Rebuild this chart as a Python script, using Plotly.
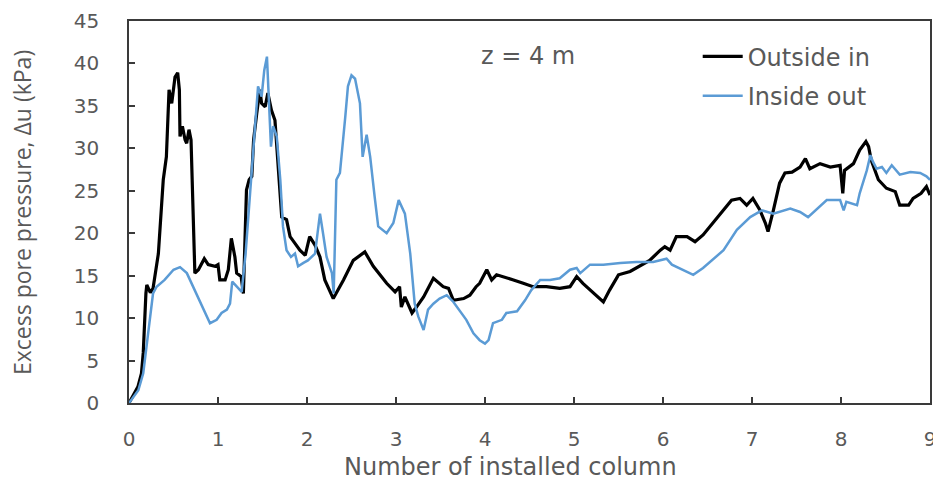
import plotly.graph_objects as go

# Outside in (black)
x_outside = [0.0, 0.1, 0.14, 0.16, 0.19, 0.2, 0.24, 0.27, 0.33, 0.385, 0.42, 0.45, 0.48, 0.5, 0.517, 0.547,
             0.566, 0.573, 0.6, 0.63, 0.648, 0.674, 0.697, 0.74, 0.78, 0.846, 0.89, 0.966, 1.0, 1.02, 1.08,
             1.116, 1.15, 1.19, 1.21, 1.26, 1.285, 1.32, 1.35, 1.38, 1.4, 1.435, 1.47, 1.49, 1.53, 1.56, 1.585,
             1.6, 1.64, 1.68, 1.716, 1.77, 1.81, 1.865, 1.92, 1.98, 2.03, 2.09, 2.146, 2.2, 2.295, 2.41, 2.52,
             2.65, 2.745, 2.895, 2.99, 3.04, 3.06, 3.1, 3.18, 3.23, 3.31, 3.42, 3.53, 3.59, 3.645, 3.76, 3.83,
             3.9, 3.94, 4.02, 4.075, 4.13, 4.2, 4.32, 4.43, 4.54, 4.69, 4.84, 4.955, 5.03, 5.1, 5.22, 5.33,
             5.4, 5.5, 5.63, 5.74, 5.85, 5.97, 6.02, 6.08, 6.15, 6.27, 6.36, 6.45, 6.53, 6.64, 6.77, 6.865,
             6.94, 7.01, 7.09, 7.15, 7.18, 7.24, 7.31, 7.37, 7.45, 7.54, 7.6, 7.65, 7.765, 7.88, 7.99, 8.02,
             8.04, 8.14, 8.21, 8.28, 8.31, 8.34, 8.42, 8.51, 8.61, 8.66, 8.76, 8.81, 8.9, 8.96, 9.0]
y_outside = [0.0, 1.9, 3.5, 5.9, 12.9, 13.9, 13.0, 13.5, 17.6, 26.3, 29.0, 36.9, 35.3, 36.9, 38.4, 38.9,
             36.9, 31.4, 32.6, 31.0, 30.6, 32.2, 31.0, 15.3, 15.7, 17.0, 16.3, 16.1, 16.3, 14.5, 14.5,
             15.7, 19.4, 17.2, 15.3, 14.9, 12.9, 25.1, 26.3, 26.7, 31.0, 34.1, 36.9, 35.3, 34.9, 36.5, 34.9,
             34.5, 33.3, 27.8, 21.9, 21.6, 19.6, 18.8, 18.0, 17.4, 19.6, 18.6, 17.2, 14.5, 12.3, 14.5, 16.8,
             17.8, 16.1, 14.1, 13.1, 13.7, 11.3, 12.5, 10.6, 11.3, 12.5, 14.7, 13.7, 13.5, 12.1, 12.3, 12.7,
             13.7, 14.1, 15.7, 14.5, 15.1, 14.9, 14.5, 14.1, 13.7, 13.7, 13.5, 13.7, 14.9, 14.1, 12.9, 11.9,
             13.3, 15.1, 15.5, 16.1, 16.8, 18.0, 18.4, 18.0, 19.6, 19.6, 19.0, 19.8, 20.8, 22.3, 23.9, 24.1,
             23.3, 24.1, 22.7, 21.2, 20.2, 22.7, 25.9, 27.1, 27.2, 27.8, 28.8, 27.6, 28.2, 27.8, 28.0, 24.7,
             27.4, 28.2, 29.8, 30.8, 30.2, 28.6, 26.3, 25.3, 24.9, 23.3, 23.3, 24.1, 24.7, 25.5, 24.5]

# Inside out (blue)
x_inside = [0.0, 0.105, 0.16, 0.217, 0.27, 0.31, 0.4, 0.5, 0.573, 0.65, 0.74, 0.835, 0.91, 0.985, 1.04, 1.1,
            1.135, 1.16, 1.21, 1.266, 1.31, 1.35, 1.4, 1.45, 1.49, 1.52, 1.55, 1.573, 1.595, 1.62, 1.66, 1.7,
            1.73, 1.77, 1.82, 1.865, 1.9, 1.96, 2.01, 2.09, 2.146, 2.18, 2.22, 2.28, 2.3, 2.33, 2.37, 2.43,
            2.46, 2.5, 2.54, 2.595, 2.625, 2.67, 2.71, 2.76, 2.8, 2.895, 2.97, 3.03, 3.1, 3.16, 3.21, 3.25,
            3.31, 3.36, 3.42, 3.49, 3.57, 3.645, 3.72, 3.79, 3.87, 3.94, 4.0, 4.04, 4.09, 4.19, 4.24, 4.36,
            4.45, 4.52, 4.62, 4.73, 4.84, 4.955, 5.03, 5.07, 5.18, 5.33, 5.52, 5.7, 5.89, 6.04, 6.1, 6.23,
            6.34, 6.45, 6.53, 6.68, 6.83, 6.98, 7.11, 7.24, 7.43, 7.54, 7.63, 7.73, 7.84, 7.99, 8.03, 8.06,
            8.18, 8.21, 8.29, 8.33, 8.36, 8.4, 8.46, 8.51, 8.57, 8.66, 8.78, 8.89, 8.96, 9.0]
y_inside = [0.0, 1.5, 3.5, 8.2, 12.9, 13.7, 14.5, 15.7, 16.0, 15.3, 13.3, 11.0, 9.4, 9.8, 10.6, 11.0,
            11.7, 14.3, 13.7, 13.1, 17.6, 23.1, 29.4, 37.3, 36.1, 39.2, 40.8, 35.7, 30.2, 32.6, 31.4, 26.3,
            20.8, 18.0, 17.2, 17.6, 16.1, 16.5, 16.8, 17.6, 22.3, 20.0, 17.2, 15.3, 12.9, 26.3, 27.1, 33.7,
            37.3, 38.6, 38.2, 35.3, 29.0, 31.6, 29.0, 24.3, 20.8, 20.0, 21.2, 23.9, 22.3, 17.6, 11.7, 10.2,
            8.6, 11.0, 11.7, 12.3, 12.7, 11.9, 10.8, 9.8, 8.2, 7.4, 7.0, 7.4, 9.4, 9.8, 10.6, 10.8,
            12.1, 13.3, 14.5, 14.5, 14.7, 15.7, 15.9, 15.3, 16.3, 16.3, 16.5, 16.6, 16.6, 17.0, 16.3, 15.7,
            15.1, 15.9, 16.6, 18.0, 20.4, 21.9, 22.7, 22.3, 22.9, 22.5, 21.9, 22.9, 23.9, 23.9, 22.7, 23.7,
            23.3, 24.7, 27.4, 29.2, 28.4, 27.6, 27.8, 27.1, 28.0, 26.9, 27.2, 27.1, 26.7, 26.3]

x_ticks = [0, 1, 2, 3, 4, 5, 6, 7, 8, 9]
y_ticks = [0, 5, 10, 15, 20, 25, 30, 35, 40, 45]

HFONT = "DejaVu Sans"
VFONT = "Open Sans"
GRAY = "#595959"
AXIS = "#3a3a3a"

fig = go.Figure()
fig.add_trace(go.Scatter(x=x_outside, y=y_outside, mode="lines", name="Outside in",
                         legendgroup="a", line=dict(color="#000000", width=3.2)))
fig.add_trace(go.Scatter(x=x_inside, y=y_inside, mode="lines", name="Inside out",
                         legendgroup="b", line=dict(color="#5B9BD5", width=2.5)))

axis_common = dict(showgrid=False, zeroline=False, showline=True, linecolor=AXIS, linewidth=1.5,
                   mirror=True, ticks="inside", ticklen=6, tickcolor=AXIS, tickwidth=1.5,
                   ticklabeloverflow="allow", automargin=False,
                   tickfont=dict(family=HFONT, size=20, color=GRAY))

fig.update_layout(
    width=933, height=481,
    margin=dict(l=129, r=3, t=21, b=78, autoexpand=False),
    paper_bgcolor="white", plot_bgcolor="white",
    font=dict(family=HFONT, color=GRAY),
    xaxis=dict(range=[0, 9], tickvals=x_ticks, ticklabelstandoff=17, **axis_common),
    yaxis=dict(range=[0, 45], tickvals=y_ticks, ticklabelstandoff=24, **axis_common),
    legend=dict(x=0.71, y=0.965, xanchor="left", yanchor="top", bgcolor="rgba(0,0,0,0)",
                font=dict(family=HFONT, size=24, color=GRAY), tracegroupgap=5, itemwidth=40),
    showlegend=True,
    annotations=[
        dict(text="z = 4 m", xref="paper", yref="paper", x=(528 - 129) / 801, y=(403 - 56) / 382,
             xanchor="center", yanchor="middle", showarrow=False,
             font=dict(family=HFONT, size=24, color=GRAY)),
        dict(text="Number of installed column", xref="paper", yref="paper",
             x=(510 - 129) / 801, y=(403 - 467) / 382, xanchor="center", yanchor="middle",
             showarrow=False, font=dict(family=HFONT, size=24, color=GRAY)),
        dict(text="Excess pore pressure, \u0394u (kPa)", xref="paper", yref="paper",
             x=(22 - 129) / 801, y=(403 - 213) / 382, xanchor="center", yanchor="middle",
             textangle=-90, showarrow=False, font=dict(family=VFONT, size=23, color=GRAY)),
    ],
)

fig.write_html("out.html")
